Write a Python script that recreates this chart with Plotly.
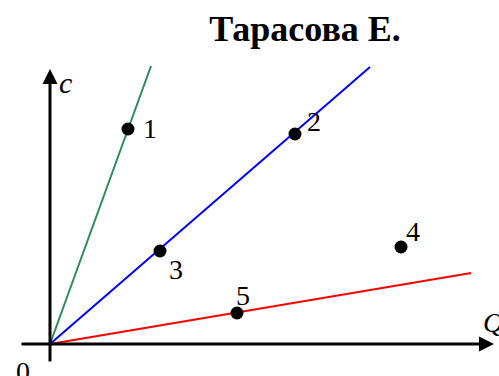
import plotly.graph_objects as go

# points (origin at the axes crossing)
pt_x = [78, 245, 110, 351, 187]
pt_y = [215, 210, 93, 97, 31]
pt_labels = ["1", "2", "3", "4", "5"]
# label offsets in px from each point
lab_dx = [22, 19, 16, 12, 6]
lab_dy = [1, 13, -18, 16, 18]

# rays from the origin
green_x = [0, 101]
green_y = [0, 278]
blue_x = [0, 320]
blue_y = [0, 277]
red_x = [0, 421]
red_y = [0, 71]

serif = "Liberation Serif, Times New Roman, serif"

fig = go.Figure()
fig.add_scatter(x=green_x, y=green_y, mode="lines", line=dict(color="#2e8b57", width=2))
fig.add_scatter(x=blue_x, y=blue_y, mode="lines", line=dict(color="#0000ff", width=2))
fig.add_scatter(x=red_x, y=red_y, mode="lines", line=dict(color="#ff0000", width=2))
fig.add_scatter(x=pt_x, y=pt_y, mode="markers", marker=dict(color="black", size=13))

# axes with arrow heads
fig.add_annotation(x=0, y=275, ax=0, ay=-19, xref="x", yref="y", axref="x", ayref="y",
                   text="", showarrow=True, arrowhead=2, arrowsize=1, arrowwidth=3,
                   arrowcolor="black")
fig.add_annotation(x=444, y=0, ax=-30, ay=0, xref="x", yref="y", axref="x", ayref="y",
                   text="", showarrow=True, arrowhead=2, arrowsize=1, arrowwidth=3,
                   arrowcolor="black")

for x, y, t, dx, dy in zip(pt_x, pt_y, pt_labels, lab_dx, lab_dy):
    fig.add_annotation(x=x, y=y, text=t, showarrow=False, xshift=dx, yshift=dy,
                       font=dict(family=serif, size=28, color="black"))

fig.add_annotation(x=15, y=262, text="<i>c</i>", showarrow=False,
                   font=dict(family=serif, size=30, color="black"))
fig.add_annotation(x=443, y=22, text="<i>Q</i>", showarrow=False,
                   font=dict(family=serif, size=28, color="black"))
fig.add_annotation(x=-27, y=-27, text="0", showarrow=False,
                   font=dict(family=serif, size=28, color="black"))

fig.update_layout(
    width=499, height=376,
    margin=dict(l=0, r=0, t=0, b=0),
    paper_bgcolor="white", plot_bgcolor="white",
    showlegend=False,
    title=dict(text="<b>Тарасова Е.</b>", x=305 / 499, xref="container", xanchor="center",
               y=1 - 28 / 376, yref="container", yanchor="middle",
               font=dict(family=serif, size=36, color="black")),
    xaxis=dict(range=[-50, 449], visible=False, fixedrange=True),
    yaxis=dict(range=[-32, 344], visible=False, fixedrange=True),
)

# drop the default 8px body margin so the figure fills the window
fig.write_html("out.html", config={"displayModeBar": False},
               post_script="document.body.style.margin = '0';")
